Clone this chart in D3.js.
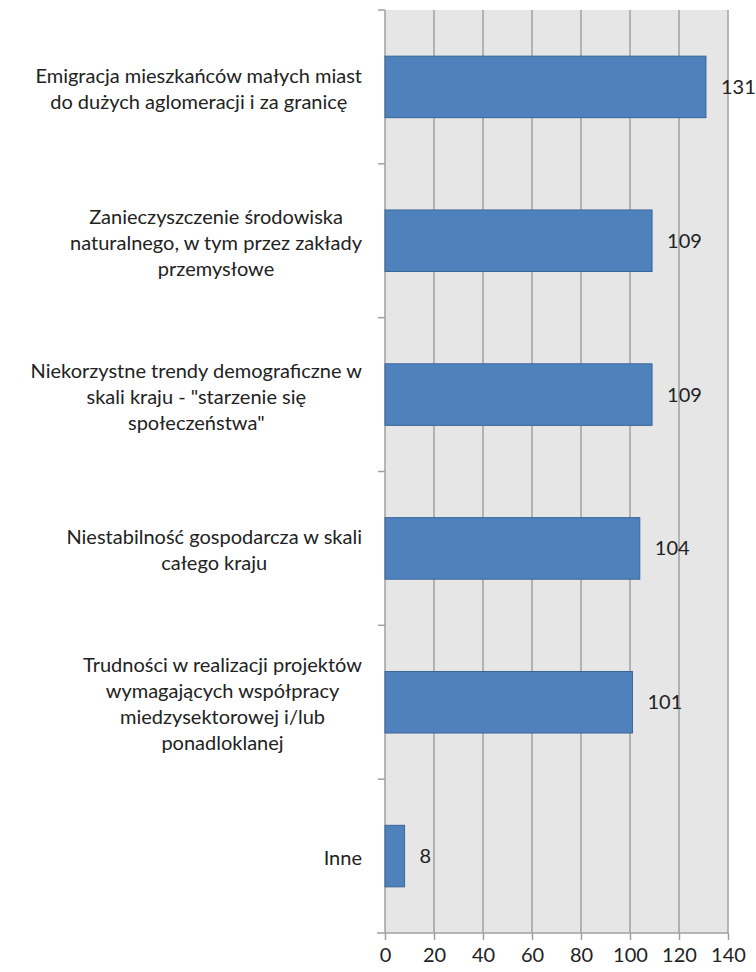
<!DOCTYPE html>
<html><head><meta charset="utf-8">
<script src="https://cdn.jsdelivr.net/npm/d3@7"></script>
<style>body{margin:0;background:#fff}</style>
</head><body>
<svg id="c" width="756" height="972"></svg>
<script>
const categories = [
  ["Emigracja mieszkańców małych miast","do dużych aglomeracji i za granicę"],
  ["Zanieczyszczenie środowiska","naturalnego, w tym przez zakłady","przemysłowe"],
  ["Niekorzystne trendy demograficzne w","skali kraju - \"starzenie się","społeczeństwa\""],
  ["Niestabilność gospodarcza w skali","całego kraju"],
  ["Trudności w realizacji projektów","wymagających współpracy","miedzysektorowej i/lub","ponadloklanej"],
  ["Inne"]
];
const values = [131,109,109,104,101,8];
const xTicks = [0,20,40,60,80,100,120,140];

const svg = d3.select("#c");
const m = {l:385, r:728, t:10, b:933};
const font = "Lato, sans-serif";

// choose font size so that the first label line is ~336px wide (as in reference)
const probe = svg.append("text").attr("font-family",font).attr("font-size",20).text(categories[0][0]);
const fs = Math.min(20, 20*336/probe.node().getComputedTextLength());
probe.remove();

const x = d3.scaleLinear().domain([0,140]).range([m.l,m.r]);
const y = d3.scaleBand().domain(d3.range(categories.length)).range([m.t,m.b]).paddingInner(0.6).paddingOuter(0.3);
const yb = d3.scaleBand().domain(d3.range(categories.length)).range([m.t,m.b]);

svg.append("rect").attr("x",m.l).attr("y",m.t).attr("width",m.r-m.l).attr("height",m.b-m.t).attr("fill","#e6e6e6");

// grid
svg.append("g").selectAll("line").data(xTicks.slice(1)).join("line")
  .attr("x1",d=>x(d)).attr("x2",d=>x(d)).attr("y1",m.t).attr("y2",m.b)
  .attr("stroke","#a0a0a0").attr("stroke-width",1.5);

// x axis
const xa = svg.append("g").attr("transform",`translate(0,${m.b})`)
  .call(d3.axisBottom(x).tickValues(xTicks).tickSize(7).tickPadding(8));
xa.select(".domain").attr("stroke","#a0a0a0").attr("stroke-width",1.5).attr("d",`M${m.l-8},0H${m.r}`);
xa.selectAll(".tick line").attr("stroke","#a0a0a0").attr("stroke-width",1.5);
xa.selectAll("text").attr("font-family",font).attr("font-size",fs).attr("fill","#222");

// y axis line and ticks at band boundaries
svg.append("line").attr("x1",m.l).attr("x2",m.l).attr("y1",m.t).attr("y2",m.b).attr("stroke","#a0a0a0").attr("stroke-width",1.5);
svg.append("g").selectAll("line").data(d3.range(categories.length)).join("line")
  .attr("x1",m.l-7).attr("x2",m.l).attr("y1",d=>yb(d)).attr("y2",d=>yb(d))
  .attr("stroke","#a0a0a0").attr("stroke-width",1.5);

// bars
svg.append("g").selectAll("rect").data(values).join("rect")
  .attr("x",x(0)).attr("y",(d,i)=>y(i)).attr("width",d=>x(d)-x(0)).attr("height",y.bandwidth())
  .attr("fill","#4f81bd").attr("stroke","#3b6596").attr("stroke-width",1);

// value labels
svg.append("g").selectAll("text").data(values).join("text")
  .attr("x",d=>x(d)+15).attr("y",(d,i)=>y(i)+y.bandwidth()/2).attr("dy","0.35em")
  .attr("font-family",font).attr("font-size",fs).attr("fill","#222").text(d=>d);

// category labels: block right-aligned, lines centered within block
const lh = 26;
categories.forEach((lines,i)=>{
  const g = svg.append("g");
  const cy = yb(i)+yb.bandwidth()/2;
  const t = g.selectAll("text").data(lines).join("text")
    .attr("font-family",font).attr("font-size",fs).attr("fill","#222")
    .attr("text-anchor","middle")
    .attr("y",(d,j)=>cy+(j-(lines.length-1)/2)*lh+2).attr("dy","0.35em").text(d=>d);
  let w = 0; t.each(function(){w=Math.max(w,this.getComputedTextLength());});
  t.attr("x", 362 - w/2);
});
</script>
</body></html>
